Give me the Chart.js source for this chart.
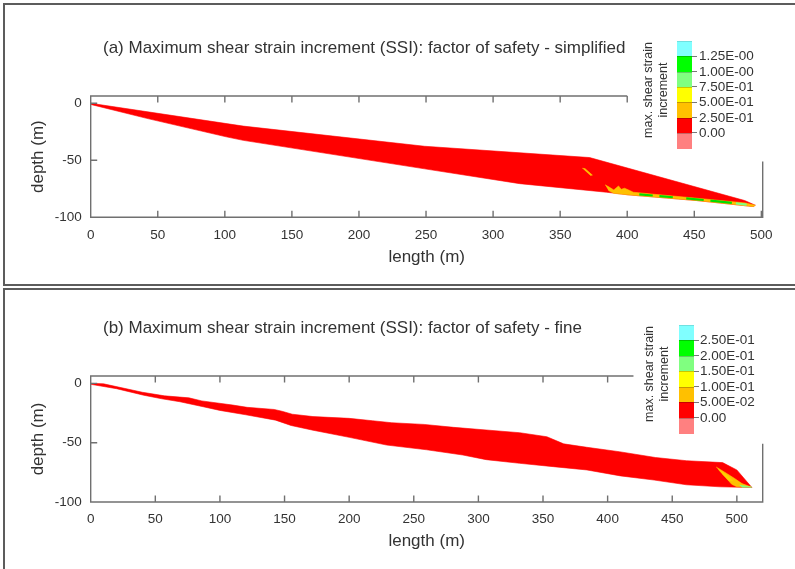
<!DOCTYPE html>
<html><head><meta charset="utf-8">
<script src="https://cdn.jsdelivr.net/npm/chart.js@4.4.0/dist/chart.umd.min.js"></script>
<style>
html,body{margin:0;padding:0;background:#fff;}
body{width:795px;height:569px;position:relative;overflow:hidden;font-family:"Liberation Sans",Arial,Helvetica,sans-serif;color:#333;}
.box{position:absolute;left:3px;width:830px;border:2px solid #5c5c5c;box-sizing:border-box;}
canvas{position:absolute;left:0;}
.title{position:absolute;left:103px;font-size:17px;line-height:20px;white-space:nowrap;color:#333;}
.sw{position:absolute;width:15px;box-sizing:border-box;}
.cbl{position:absolute;font-size:13.5px;line-height:14px;white-space:nowrap;color:#333;}
.cbt{position:absolute;height:1px;width:5px;background:#777;}
.rot{position:absolute;width:130px;height:30px;font-size:12.5px;line-height:15px;text-align:center;transform:rotate(-90deg);white-space:nowrap;color:#333;}
</style></head>
<body>
<div class="box" style="top:3px;height:283px"></div>
<div class="box" style="top:288px;height:300px"></div>
<canvas id="chartA" width="795" height="287" style="top:0"></canvas>
<canvas id="chartB" width="795" height="281" style="top:288px"></canvas>
<div class="title" style="top:38px">(a) Maximum shear strain increment (SSI): factor of safety - simplified</div>
<div class="title" style="top:318px">(b) Maximum shear strain increment (SSI): factor of safety - fine</div>
<div id="legA"></div><div id="legB"></div>
<script>
// ---------- data ----------
const xTicksA = [0, 50, 100, 150, 200, 250, 300, 350, 400, 450, 500];
const xTicksB = [0, 50, 100, 150, 200, 250, 300, 350, 400, 450, 500];
const yTicks = [-100, -50, 0];

const cbColors = ['#80ffff', '#00ff00', '#80ff80', '#ffff00', '#ffc000', '#ff0000', '#ff8080'];
const cbLabelsA = ['1.25E-00', '1.00E-00', '7.50E-01', '5.00E-01', '2.50E-01', '0.00'];
const cbLabelsB = ['2.50E-01', '2.00E-01', '1.50E-01', '1.00E-01', '5.00E-02', '0.00'];

// Panel (a) - simplified
const aTopLength = [0, 113.7, 249, 372, 487.6, 495.5];
const aTopDepth = [0, -20, -37.7, -47.6, -85.3, -89.4];
const aBottomLength = [494, 451.5, 400.6, 384.5, 319.9, 249, 113.7, 101, 41.7, 0];
const aBottomDepth = [-90.6, -85.3, -80.3, -78, -70.5, -57.5, -32.5, -29.4, -13.2, -1];
const aSliverLength = [366.5, 368.5, 374, 372.5];
const aSliverDepth = [-57, -57.3, -63, -63.4];
const aOrangeLength = [383.5, 386.5, 390, 393.5, 395.5, 398, 401, 404.5, 420, 452, 488, 495.5, 494, 452, 400.6, 390, 386];
const aOrangeDepth = [-71.5, -73.5, -76, -72.5, -75.5, -74.5, -76, -78, -79.8, -83.3, -87.4, -89.5, -90.6, -85.3, -80.3, -79, -76.5];
const aGreenLength = [409, 419, 424, 434, 444, 457, 462, 478];
const aGreenDepth = [-79.9, -80.9, -81.4, -82.4, -83.4, -84.8, -85.4, -87.4];
const aLightGreenLength = [481, 489];
const aLightGreenDepth = [-87.8, -88.8];

// Panel (b) - fine
const bTopLength = [0, 10, 40, 57, 76, 86, 110, 121, 142, 148, 156, 172, 200, 218, 233, 258, 281, 306, 332, 353, 366, 384, 409, 437, 461, 489, 500, 511.5];
const bTopDepth = [0, -0.4, -7.5, -10.5, -12.2, -14.8, -18.3, -20.2, -22, -23.5, -26, -28, -29.5, -31.5, -33.2, -34.6, -37.1, -39.3, -41.6, -45, -51, -53.9, -57.6, -62.5, -65.2, -66.8, -73, -87.6];
const bBottomLength = [511.5, 487, 461, 436, 410, 384, 358, 332, 306, 288, 260, 229, 200, 172, 155, 143, 120, 100, 87, 69, 55, 41, 20, 0];
const bBottomDepth = [-87.8, -87.2, -85.5, -81.5, -78, -73, -70.2, -67.4, -64.3, -60.4, -56, -52, -45.5, -39.5, -35.5, -31, -26.5, -22.8, -19.7, -15.5, -13, -10, -4.5, -0.8];
const bOrangeLength = [484, 490, 498, 504, 511, 500, 496, 491, 486];
const bOrangeDepth = [-70.5, -74.5, -80, -84.5, -87.3, -87.2, -85, -79, -73];
const bYellowLength = [485.5, 491, 497, 494, 489];
const bYellowDepth = [-72, -76.5, -82, -82, -76.5];
const bLightGreenLength = [502, 511.5, 504];
const bLightGreenDepth = [-85.7, -87.5, -87.5];

// ---------- helpers ----------
const FONT = '"Liberation Sans", Arial, Helvetica, sans-serif';
const TEXT = '#333333';
const AXIS = '#707070';

function pts(xs, ys) { return xs.map((x, i) => ({x: x, y: ys[i]})); }
function ring(tx, ty, bx, by) { return pts(tx, ty).concat(pts(bx, by)); }
function dashes(xs, ys) {
  const out = [];
  for (let i = 0; i < xs.length; i += 2) {
    out.push({x: xs[i], y: ys[i]}, {x: xs[i + 1], y: ys[i + 1]});
    if (i + 2 < xs.length) out.push({x: (xs[i + 1] + xs[i + 2]) / 2, y: null});
  }
  return out;
}
function polyDs(data, color, order) {
  return {data: data, backgroundColor: color, borderColor: color, borderWidth: 0.6,
    fill: 'shape', pointRadius: 0, tension: 0, order: order};
}
function lineDs(data, color, w, order) {
  return {data: data, borderColor: color, backgroundColor: color, borderWidth: w,
    fill: false, pointRadius: 0, tension: 0, spanGaps: false, order: order};
}

const framePlugin = {
  id: 'frame',
  afterDraw(chart, args, opts) {
    const ctx = chart.ctx, ca = chart.chartArea, x = chart.scales.x, y = chart.scales.y;
    const L = 6.5;
    const topEnd = x.getPixelForValue(opts.topEnd);
    const rightStart = y.getPixelForValue(opts.rightStart);
    ctx.save();
    ctx.strokeStyle = AXIS;
    ctx.lineWidth = 1.4;
    ctx.beginPath();
    ctx.moveTo(topEnd, ca.top); ctx.lineTo(ca.left, ca.top); ctx.lineTo(ca.left, ca.bottom);
    ctx.lineTo(ca.right, ca.bottom); ctx.lineTo(ca.right, rightStart);
    x.ticks.forEach(t => {
      const p = x.getPixelForValue(t.value);
      ctx.moveTo(p, ca.bottom); ctx.lineTo(p, ca.bottom - L);
      if (p <= topEnd + 1) { ctx.moveTo(p, ca.top); ctx.lineTo(p, ca.top + L); }
    });
    y.ticks.forEach(t => {
      const p = y.getPixelForValue(t.value);
      ctx.moveTo(ca.left, p); ctx.lineTo(ca.left + L, p);
    });
    ctx.stroke();
    ctx.restore();
  }
};

function makeChart(id, datasets, p) {
  return new Chart(document.getElementById(id), {
    type: 'line',
    data: {datasets: datasets},
    options: {
      responsive: false, animation: false, devicePixelRatio: 1,
      layout: {padding: p.padding},
      plugins: {legend: {display: false}, tooltip: {enabled: false},
        frame: {topEnd: p.topEnd, rightStart: p.rightStart}},
      scales: {
        x: {type: 'linear', min: 0, max: p.xMax,
          afterBuildTicks: s => { s.ticks = p.xTicks.map(v => ({value: v})); },
          afterFit: s => { s.height = p.xH; },
          grid: {display: false, drawTicks: false}, border: {display: false},
          ticks: {color: TEXT, font: {family: FONT, size: 13.5}, padding: 9.5, maxRotation: 0, autoSkip: false},
          title: {display: true, text: 'length (m)', color: TEXT, font: {family: FONT, size: 17}, padding: 0}},
        y: {type: 'linear', min: -100, max: p.yMax,
          afterBuildTicks: s => { s.ticks = yTicks.map(v => ({value: v})); },
          afterFit: s => { s.width = p.yW; },
          grid: {display: false, drawTicks: false}, border: {display: false},
          ticks: {color: TEXT, font: {family: FONT, size: 13.5}, padding: 9},
          title: {display: true, text: 'depth (m)', color: TEXT, font: {family: FONT, size: 17}, padding: 0}}
      }
    },
    plugins: [framePlugin]
  });
}

function makeColorbar(id, left, top, h, labels, labelLeft, rcx, rcy) {
  const el = document.getElementById(id);
  let html = '';
  cbColors.forEach((c, i) => {
    html += '<div class="sw" style="left:' + left + 'px;top:' + (top + i * h) + 'px;height:' + (h + 0.5) + 'px;background:' + c +
      (i > 0 ? ';border-top:1px solid rgba(0,0,0,0.22)' : ';border-top:1px solid rgba(0,0,0,0.12)') + '"></div>';
  });
  labels.forEach((t, i) => {
    const yb = top + (i + 1) * h;
    html += '<div class="cbt" style="left:' + (left + 15) + 'px;top:' + (yb - 0.5) + 'px"></div>';
    html += '<div class="cbl" style="left:' + labelLeft + 'px;top:' + (yb - 7) + 'px">' + t + '</div>';
  });
  html += '<div class="rot" style="left:' + (rcx - 65) + 'px;top:' + (rcy - 15) + 'px">max. shear strain<br>increment</div>';
  el.innerHTML = html;
}

makeChart('chartA', [
  lineDs(dashes(aGreenLength, aGreenDepth), '#00dd00', 2.2, 1),
  lineDs(pts(aLightGreenLength, aLightGreenDepth), '#80ff80', 2.2, 1),
  polyDs(pts(aSliverLength, aSliverDepth), '#ffc000', 2),
  polyDs(pts(aOrangeLength, aOrangeDepth), '#ffc000', 2),
  polyDs(ring(aTopLength, aTopDepth, aBottomLength, aBottomDepth), '#ff0000', 3)
], {padding: {left: 27.8, top: 96, right: 32.3, bottom: 19.1}, xH: 50.6, yW: 62.9,
    xMax: 501, yMax: 6.4, xTicks: xTicksA, topEnd: 400, rightStart: -51});

makeChart('chartB', [
  polyDs(pts(bLightGreenLength, bLightGreenDepth), '#80ff80', 1),
  polyDs(pts(bYellowLength, bYellowDepth), '#ffd000', 1),
  polyDs(pts(bOrangeLength, bOrangeDepth), '#ffc000', 2),
  polyDs(ring(bTopLength, bTopDepth, bBottomLength, bBottomDepth), '#ff0000', 3)
], {padding: {left: 27.8, top: 88, right: 32.3, bottom: 17.1}, xH: 49.9, yW: 62.9,
    xMax: 520, yMax: 6.2, xTicks: xTicksB, topEnd: 420, rightStart: -51});

makeColorbar('legA', 677, 41, 15.3, cbLabelsA, 699, 655.5, 89.7);
makeColorbar('legB', 679, 325, 15.47, cbLabelsB, 700, 657, 374.2);
</script>
</body></html>
